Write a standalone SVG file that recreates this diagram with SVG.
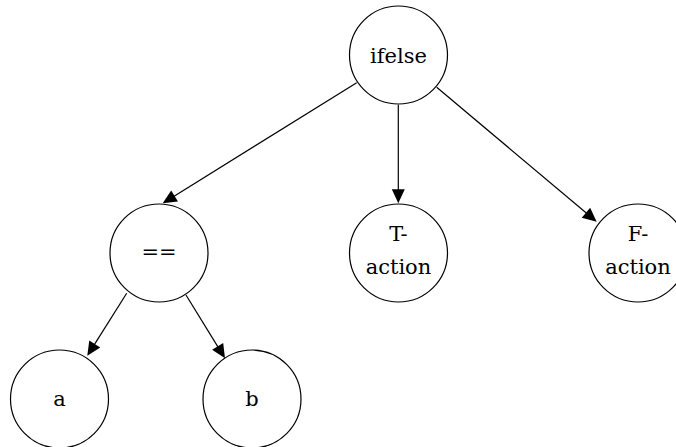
<svg xmlns="http://www.w3.org/2000/svg" width="676" height="447" viewBox="0 0 676 447">
  <style>
    .node circle { fill: #ffffff; stroke: #000000; stroke-width: 1.2; }
    .node text { font-family: "DejaVu Serif", "Liberation Serif", serif; font-size: 21px; fill: #000000; text-anchor: middle; }
    .edge { stroke: #000000; stroke-width: 1.2; fill: none; marker-end: url(#arrow); }
  </style>
  <defs>
    <marker id="arrow" markerUnits="userSpaceOnUse" markerWidth="14" markerHeight="13" refX="2" refY="6.5" orient="auto" overflow="visible">
      <path d="M0,0 L14,6.5 L0,13 Z" fill="#000000"/>
    </marker>
  </defs>

  <rect width="676" height="447" fill="#ffffff"/>

  <!-- connectors -->
  <g id="edges">
    <line class="edge" x1="356.7" y1="82.7" x2="172.9" y2="197.0"/>
    <line class="edge" x1="398.3" y1="104.7" x2="398.3" y2="191.3"/>
    <line class="edge" x1="436.7" y1="87.3" x2="587.5" y2="214.0"/>
    <line class="edge" x1="126.7" y1="293.3" x2="93.7" y2="345.6"/>
    <line class="edge" x1="186" y1="295" x2="218.7" y2="348.1"/>
  </g>

  <!-- nodes -->
  <g id="ifelse" class="node">
    <circle cx="398.5" cy="55" r="49"/>
    <text x="398.5" y="63">ifelse</text>
  </g>
  <g id="eq" class="node">
    <circle cx="159" cy="253" r="49"/>
    <text x="159" y="259">==</text>
  </g>
  <g id="t-action" class="node">
    <circle cx="398.5" cy="253" r="49"/>
    <text x="398.5" y="241">T-</text>
    <text x="398.5" y="274">action</text>
  </g>
  <g id="f-action" class="node">
    <circle cx="638" cy="253" r="49"/>
    <text x="638" y="241">F-</text>
    <text x="638" y="274">action</text>
  </g>
  <g id="a" class="node">
    <circle cx="59.5" cy="399" r="49"/>
    <text x="59.5" y="406">a</text>
  </g>
  <g id="b" class="node">
    <circle cx="252" cy="399" r="49"/>
    <text x="252" y="406">b</text>
  </g>
</svg>
